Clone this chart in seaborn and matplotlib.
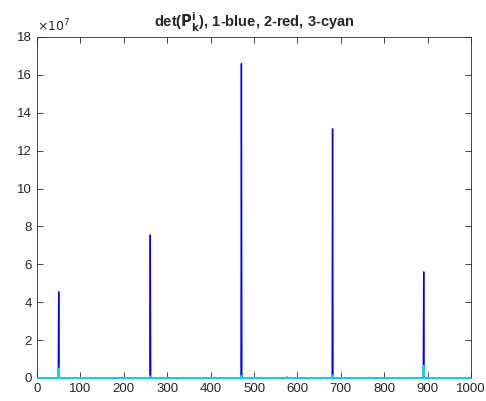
import numpy as np
import pandas as pd
import matplotlib
matplotlib.use('Agg')
import matplotlib.pyplot as plt
from matplotlib.ticker import FuncFormatter
import seaborn as sns

# sample index where each spike happens, and spike heights per series
spike_idx = [49, 260, 470, 680, 890]
blue_peaks = [4.55e7, 7.55e7, 16.6e7, 13.15e7, 5.6e7]
red_peaks = [0.3e7, 0.05e7, 0.1e7, 0.08e7, 0.4e7]
cyan_peaks = [0.5e7, 0.1e7, 0.12e7, 0.15e7, 0.65e7]
small_blip_idx = [575]
small_blip_val = [0.05e7]
n_samples = 1000

k = np.arange(1, n_samples + 1)
det1 = np.zeros(n_samples)
det2 = np.zeros(n_samples)
det3 = np.zeros(n_samples)
det1[spike_idx] = blue_peaks
det1[small_blip_idx] = small_blip_val
det2[spike_idx] = red_peaks
det3[spike_idx] = cyan_peaks

df = pd.DataFrame({"k": k, "d1": det1, "d2": det2, "d3": det3})

sns.set_style("ticks")
plt.rcParams['font.family'] = ['Liberation Sans', 'DejaVu Sans']

fig = plt.figure(figsize=(4.86, 4.01), dpi=100)
ax = fig.add_axes([37 / 486, 23 / 401, 434 / 486, 341 / 401])

sns.lineplot(data=df, x="k", y="d1", color=(0, 0, 1), linewidth=1.0, ax=ax)
sns.lineplot(data=df, x="k", y="d2", color=(1, 0, 0), linewidth=1.0, ax=ax)
sns.lineplot(data=df, x="k", y="d3", color=(0, 0.85, 0.9), linewidth=1.4,
             ax=ax, zorder=3, clip_on=False)

ax.set_xlim(0, 1000)
ax.set_ylim(0, 18e7)
ax.set_xticks(np.arange(0, 1001, 100))
ax.set_yticks(np.arange(0, 18.1e7, 2e7))
ax.yaxis.set_major_formatter(FuncFormatter(lambda v, p: f"{v / 1e7:g}"))
ax.text(0.0, 1.008, r"$\times10^{7}$", transform=ax.transAxes,
        fontsize=9, color="#262626", ha="left", va="bottom")
ax.set_xlabel("")
ax.set_ylabel("")
ax.tick_params(direction="in", top=True, right=True, length=4, width=0.6,
               labelsize=9.5, colors="#262626")
for s in ax.spines.values():
    s.set_linewidth(0.6)
    s.set_color("#262626")
ax.set_title(r"det($\mathbf{P_k^i}$), 1-blue, 2-red, 3-cyan",
             fontsize=10.5, fontweight="bold", pad=7)

fig.savefig("out.png", dpi=100)
plt.close(fig)
